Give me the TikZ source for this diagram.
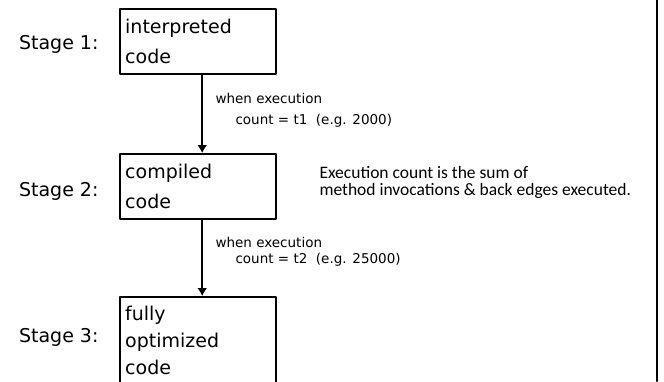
\documentclass[tikz,border=0pt]{standalone}
\usepackage{fontspec}
\setmainfont{DejaVu Sans}
\newfontfamily\notefont{Carlito}
\usetikzlibrary{arrows.meta}
\begin{document}
\begin{tikzpicture}[x=1pt, y=-1pt, line cap=round, line join=round]

    \useasboundingbox (0,0) rectangle (664,381);
    \clip (0,0) rectangle (664,381);

    \tikzset{
      stagebox/.style={
        draw, line width=2.4pt, anchor=north west,
        text width=146pt, inner xsep=5pt, inner ysep=0pt,
        align=left, font=\fontsize{19}{30}\selectfont
      },
      stagelabel/.style={anchor=east, font=\fontsize{19}{22}\selectfont},
      cond/.style={anchor=west, font=\fontsize{13.5}{15}\selectfont},
      flow/.style={line width=2.4pt, -{Latex[length=8pt, width=10pt]}}
    }

    \node[stagebox, minimum height=65pt] (interp) at (119,8) {interpreted\\code};
    \node[stagebox, minimum height=65pt] (compiled) at (119,153) {compiled\\code};
    \node[stagebox, minimum height=86pt, font=\fontsize{19}{27}\selectfont]
      (optimized) at (119,296) {fully\\optimized\\code};

    \node[stagelabel] (stage1) at (102,44) {Stage 1:};
    \node[stagelabel] (stage2) at (102,191) {Stage 2:};
    \node[stagelabel] (stage3) at (102,337) {Stage 3:};

    \draw[flow] ([xshift=4pt]interp.south) -- ([xshift=4pt]compiled.north);
    \draw[flow] ([xshift=4pt]compiled.south) -- ([xshift=4pt]optimized.north);

    \node[cond] (when1) at (212,98) {when execution};
    \node[cond] (count1) at (232,121) {count = t1\ \ (e.g. 2000)};
    \node[cond] (when2) at (212,242) {when execution};
    \node[cond] (count2) at (232,260) {count = t2\ \ (e.g. 25000)};

    \node[anchor=west, align=left, font=\notefont\fontsize{17.5}{17}\selectfont]
      (note) at (316,182) {Execution count is the sum of\\method invocations \& back edges executed.};

    \draw[line width=2.4pt] (657,0) -- (657,381);

\end{tikzpicture}
\end{document}
